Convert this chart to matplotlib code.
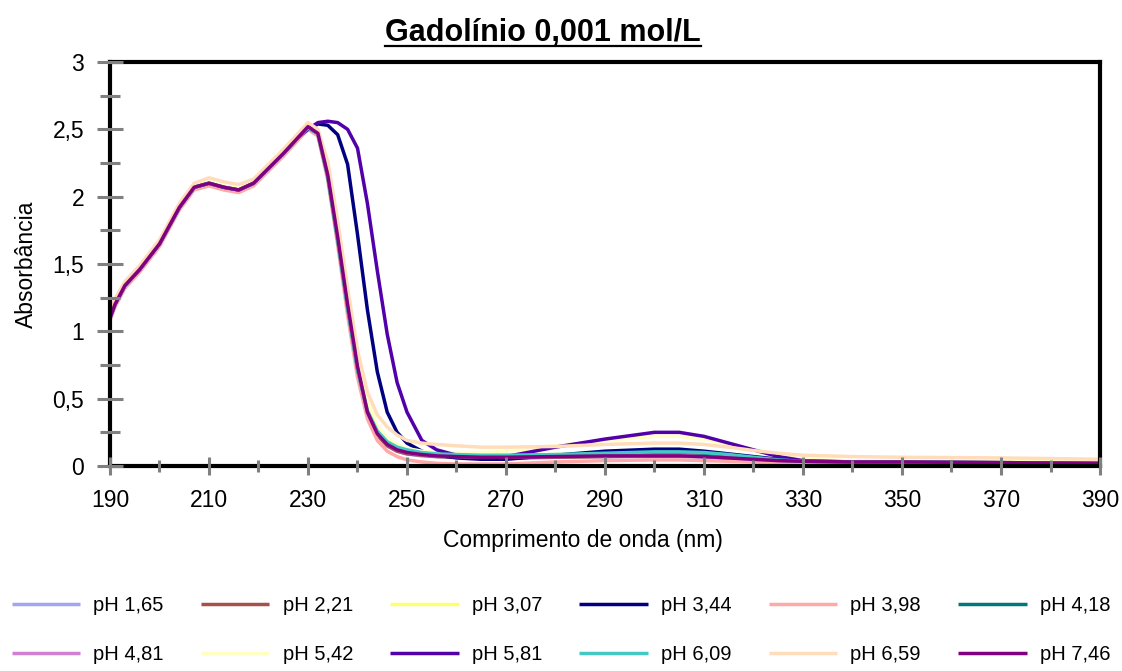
import matplotlib.pyplot as plt
from matplotlib.lines import Line2D
from matplotlib.ticker import MultipleLocator, FuncFormatter

plt.rcParams['font.family'] = ['Liberation Sans', 'DejaVu Sans']

# Wavelength grid (nm)
wavelength = [190, 191, 193, 196, 200, 204, 207, 210, 213, 216, 219, 222, 225, 228, 230,
              232, 234, 236, 238, 240, 242, 244, 246, 248, 250, 253, 256, 260, 265, 270,
              280, 290, 300, 305, 310, 315, 320, 325, 330, 340, 350, 370, 390]

# Absorbance per pH
ph_165 = [1.10, 1.20, 1.34, 1.46, 1.65, 1.92, 2.07, 2.10, 2.07, 2.05, 2.10, 2.21, 2.32, 2.44, 2.51,
          2.46, 2.14, 1.67, 1.17, 0.71, 0.39, 0.23, 0.15, 0.11, 0.09, 0.075, 0.07, 0.065, 0.06, 0.06,
          0.065, 0.07, 0.07, 0.07, 0.065, 0.055, 0.045, 0.035, 0.03, 0.025, 0.025, 0.02, 0.02]
ph_221 = [1.10, 1.20, 1.34, 1.46, 1.65, 1.92, 2.07, 2.10, 2.07, 2.05, 2.10, 2.21, 2.32, 2.44, 2.51,
          2.46, 2.15, 1.68, 1.18, 0.72, 0.40, 0.23, 0.15, 0.11, 0.09, 0.08, 0.07, 0.065, 0.06, 0.06,
          0.065, 0.07, 0.075, 0.075, 0.07, 0.06, 0.05, 0.04, 0.03, 0.025, 0.025, 0.02, 0.02]
ph_307 = [1.10, 1.20, 1.34, 1.46, 1.65, 1.92, 2.07, 2.10, 2.07, 2.05, 2.10, 2.21, 2.32, 2.44, 2.51,
          2.47, 2.16, 1.70, 1.20, 0.74, 0.42, 0.25, 0.17, 0.13, 0.11, 0.09, 0.085, 0.08, 0.08, 0.08,
          0.085, 0.09, 0.095, 0.095, 0.09, 0.08, 0.065, 0.05, 0.04, 0.035, 0.03, 0.03, 0.025]
ph_344 = [1.10, 1.20, 1.34, 1.46, 1.65, 1.92, 2.07, 2.10, 2.07, 2.05, 2.10, 2.21, 2.32, 2.44, 2.50,
          2.54, 2.53, 2.46, 2.24, 1.72, 1.16, 0.70, 0.40, 0.25, 0.17, 0.11, 0.08, 0.06, 0.05, 0.05,
          0.08, 0.11, 0.125, 0.125, 0.11, 0.09, 0.07, 0.05, 0.035, 0.025, 0.02, 0.02, 0.015]
ph_398 = [1.08, 1.18, 1.32, 1.44, 1.63, 1.90, 2.05, 2.08, 2.05, 2.03, 2.08, 2.19, 2.30, 2.42, 2.50,
          2.45, 2.12, 1.64, 1.12, 0.66, 0.35, 0.19, 0.11, 0.07, 0.045, 0.03, 0.02, 0.015, 0.015, 0.015,
          0.03, 0.04, 0.045, 0.045, 0.04, 0.035, 0.03, 0.02, 0.015, 0.01, 0.01, 0.01, 0.01]
ph_418 = [1.10, 1.20, 1.34, 1.46, 1.65, 1.92, 2.07, 2.10, 2.07, 2.05, 2.10, 2.21, 2.32, 2.44, 2.51,
          2.47, 2.15, 1.68, 1.18, 0.72, 0.41, 0.25, 0.17, 0.13, 0.11, 0.095, 0.085, 0.08, 0.075, 0.075,
          0.08, 0.09, 0.10, 0.10, 0.095, 0.08, 0.06, 0.045, 0.035, 0.03, 0.03, 0.025, 0.02]
ph_481 = [1.10, 1.20, 1.34, 1.46, 1.65, 1.92, 2.07, 2.10, 2.07, 2.05, 2.10, 2.21, 2.32, 2.44, 2.52,
          2.47, 2.16, 1.70, 1.20, 0.73, 0.40, 0.24, 0.16, 0.12, 0.10, 0.085, 0.075, 0.07, 0.065, 0.065,
          0.07, 0.075, 0.075, 0.075, 0.07, 0.06, 0.05, 0.04, 0.035, 0.03, 0.03, 0.025, 0.02]
ph_542 = [1.11, 1.21, 1.35, 1.47, 1.66, 1.93, 2.08, 2.11, 2.08, 2.06, 2.11, 2.22, 2.33, 2.45, 2.53,
          2.48, 2.20, 1.74, 1.25, 0.80, 0.48, 0.30, 0.21, 0.16, 0.13, 0.11, 0.10, 0.10, 0.10, 0.11,
          0.15, 0.19, 0.22, 0.22, 0.20, 0.16, 0.12, 0.08, 0.05, 0.04, 0.035, 0.03, 0.03]
ph_581 = [1.10, 1.20, 1.34, 1.46, 1.65, 1.92, 2.07, 2.10, 2.07, 2.05, 2.10, 2.21, 2.32, 2.44, 2.50,
          2.55, 2.56, 2.55, 2.50, 2.36, 1.95, 1.45, 0.98, 0.62, 0.40, 0.19, 0.12, 0.08, 0.065, 0.07,
          0.14, 0.20, 0.25, 0.25, 0.22, 0.17, 0.12, 0.07, 0.04, 0.03, 0.03, 0.025, 0.02]
ph_609 = [1.10, 1.20, 1.34, 1.46, 1.65, 1.92, 2.07, 2.10, 2.07, 2.05, 2.10, 2.21, 2.32, 2.44, 2.51,
          2.47, 2.15, 1.68, 1.18, 0.72, 0.41, 0.26, 0.18, 0.14, 0.12, 0.10, 0.09, 0.085, 0.08, 0.08,
          0.085, 0.095, 0.105, 0.105, 0.10, 0.085, 0.065, 0.045, 0.035, 0.03, 0.03, 0.025, 0.02]
ph_659 = [1.12, 1.24, 1.37, 1.49, 1.68, 1.95, 2.10, 2.14, 2.11, 2.09, 2.13, 2.24, 2.35, 2.47, 2.55,
          2.50, 2.26, 1.82, 1.32, 0.86, 0.55, 0.38, 0.29, 0.23, 0.19, 0.17, 0.16, 0.15, 0.14, 0.14,
          0.145, 0.16, 0.17, 0.17, 0.16, 0.14, 0.115, 0.095, 0.08, 0.07, 0.065, 0.06, 0.05]
ph_746 = [1.10, 1.20, 1.34, 1.46, 1.65, 1.92, 2.07, 2.10, 2.07, 2.05, 2.10, 2.21, 2.32, 2.44, 2.52,
          2.47, 2.16, 1.70, 1.20, 0.74, 0.40, 0.24, 0.16, 0.12, 0.10, 0.085, 0.075, 0.07, 0.065, 0.065,
          0.07, 0.075, 0.075, 0.075, 0.07, 0.06, 0.05, 0.04, 0.035, 0.03, 0.03, 0.025, 0.02]

labels = ['pH 1,65', 'pH 2,21', 'pH 3,07', 'pH 3,44', 'pH 3,98', 'pH 4,18',
          'pH 4,81', 'pH 5,42', 'pH 5,81', 'pH 6,09', 'pH 6,59', 'pH 7,46']
series = [ph_165, ph_221, ph_307, ph_344, ph_398, ph_418,
          ph_481, ph_542, ph_581, ph_609, ph_659, ph_746]
colors = ['#a4a4f4', '#a5504c', '#ffff70', '#000080', '#ffa8a8', '#007878',
          '#d080d0', '#ffffc4', '#5200aa', '#44c8c4', '#ffdcba', '#800080']
x_ticks = list(range(190, 391, 20))

fig = plt.figure(figsize=(11.22, 6.71), dpi=100)
ax = fig.add_axes([110 / 1122, 1 - 466 / 671, 990 / 1122, 404 / 671])

handles = []
for vals, lab, col in zip(series, labels, colors):
    h, = ax.plot(wavelength, vals, color=col, lw=2.5, label=lab,
                 solid_joinstyle='round', solid_capstyle='butt')
    handles.append(h)

ax.set_xlim(190, 390)
ax.set_ylim(0, 3)
ax.set_xticks(x_ticks)
ax.xaxis.set_minor_locator(MultipleLocator(10))
ax.yaxis.set_major_locator(MultipleLocator(0.5))
ax.yaxis.set_minor_locator(MultipleLocator(0.25))
ax.yaxis.set_major_formatter(FuncFormatter(lambda v, p: f'{v:g}'.replace('.', ',')))

for s in ax.spines.values():
    s.set_linewidth(3)
    s.set_color('black')

ax.tick_params(axis='x', which='major', direction='inout', length=13, width=2.2,
               color='#808080', labelsize=16.5, pad=10, top=False)
ax.tick_params(axis='x', which='minor', direction='inout', length=8.5, width=2.2,
               color='#808080', top=False)
ax.tick_params(axis='y', which='major', direction='inout', length=19, width=2.2,
               color='#808080', labelsize=16.5, pad=9, right=False)
ax.tick_params(axis='y', which='minor', direction='inout', length=14, width=2.2,
               color='#808080', right=False)
ax.xaxis.set_zorder(3)
ax.yaxis.set_zorder(3)

ax.set_xlabel('Comprimento de onda (nm)', fontsize=16.5)
ax.xaxis.set_label_coords(0.478, -0.155)
ax.set_ylabel('Absorbância', fontsize=16.5)
ax.yaxis.set_label_coords(-0.073, 0.5)

# title with underline
title = fig.text(543 / 1122, 1 - 33 / 671, 'Gadolínio 0,001 mol/L', ha='center', va='center',
                 fontsize=22, fontweight='bold')
fig.canvas.draw()
bb = title.get_window_extent()
uy = bb.y0 + 2
fig.add_artist(Line2D([bb.x0 / 1122, bb.x1 / 1122], [uy / 671, uy / 671],
                      transform=fig.transFigure, color='black', lw=1.6))

# legend in row-major order (6 columns x 2 rows)
order = [0, 6, 1, 7, 2, 8, 3, 9, 4, 10, 5, 11]
fig.legend([handles[i] for i in order], [labels[i] for i in order], ncol=6,
           loc='center', bbox_to_anchor=(0.5, 1 - 630 / 671), frameon=False,
           fontsize=14.5, handlelength=3.4, handletextpad=0.65, columnspacing=1.85,
           labelspacing=1.45)

fig.savefig('out.png', dpi=100)
